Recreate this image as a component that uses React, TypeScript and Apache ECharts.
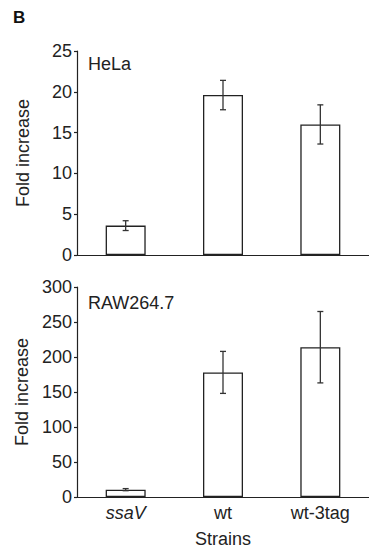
import React, { useEffect, useRef } from "react";
import * as echarts from "echarts";

const strains = ["ssaV", "wt", "wt-3tag"];
const helaMeans = [3.6, 19.6, 16.0];
const helaErrors = [0.6, 1.8, 2.4];
const rawMeans = [10.5, 178, 214];
const rawErrors = [1.5, 30, 51];
const helaTicks = { min: 0, max: 25, interval: 5 };
const rawTicks = { min: 0, max: 300, interval: 50 };

const FONT = "Liberation Sans, Arial, Helvetica, sans-serif";
const INK = "#222";

function errData(means: number[], errs: number[]) {
  return means.map((m, i) => [i, m - errs[i], m + errs[i]]);
}

function errRender(params: any, api: any) {
  const i = api.value(0);
  const lo = api.coord([i, api.value(1)]);
  const hi = api.coord([i, api.value(2)]);
  const cap = 3;
  const style = { stroke: "#333", lineWidth: 1.3 };
  return {
    type: "group",
    children: [
      { type: "line", shape: { x1: lo[0], y1: lo[1], x2: hi[0], y2: hi[1] }, style },
      { type: "line", shape: { x1: hi[0] - cap, y1: hi[1], x2: hi[0] + cap, y2: hi[1] }, style },
      { type: "line", shape: { x1: lo[0] - cap, y1: lo[1], x2: lo[0] + cap, y2: lo[1] }, style },
    ],
  };
}

export default function App() {
  const ref = useRef<HTMLDivElement>(null);
  useEffect(() => {
    if (!ref.current) return;
    const chart = echarts.init(ref.current, undefined, { renderer: "svg" });
    const yAxisBase = (idx: number, t: any) => ({
      type: "value",
      gridIndex: idx,
      min: t.min,
      max: t.max,
      interval: t.interval,
      name: "Fold increase",
      nameLocation: "middle",
      nameGap: 45,
      nameTextStyle: { fontFamily: FONT, fontSize: 18, color: INK },
      axisLine: { show: true, lineStyle: { color: INK, width: 1.2 } },
      axisTick: { show: true, length: 3, lineStyle: { color: INK, width: 1.2 } },
      axisLabel: { fontFamily: FONT, fontSize: 18, color: INK, margin: 5 },
      splitLine: { show: false },
    });
    const xAxisBase = (idx: number, showLabels: boolean) => ({
      type: "category",
      gridIndex: idx,
      data: strains,
      name: showLabels ? "Strains" : "",
      nameLocation: "middle",
      nameGap: 33,
      nameTextStyle: { fontFamily: FONT, fontSize: 18, color: INK },
      axisLine: { show: true, lineStyle: { color: INK, width: 1.2 } },
      axisTick: { show: false },
      axisLabel: {
        show: showLabels,
        margin: 7,
        fontFamily: FONT,
        fontSize: 18,
        color: INK,
        formatter: (v: string) => (v === "ssaV" ? "{i|" + v + "}" : v),
        rich: { i: { fontStyle: "italic", fontFamily: FONT, fontSize: 18, color: INK } },
      },
    });
    const barStyle = { color: "#fff", borderColor: INK, borderWidth: 1.3 };
    chart.setOption({
      animation: false,
      grid: [
        { left: 77, top: 51, width: 300, height: 204 },
        { left: 77, top: 287, width: 300, height: 210 },
      ],
      xAxis: [xAxisBase(0, false), xAxisBase(1, true)],
      yAxis: [yAxisBase(0, helaTicks), yAxisBase(1, rawTicks)],
      series: [
        { type: "bar", xAxisIndex: 0, yAxisIndex: 0, data: helaMeans, barWidth: 40, itemStyle: barStyle },
        {
          type: "custom",
          xAxisIndex: 0,
          yAxisIndex: 0,
          data: errData(helaMeans, helaErrors),
          encode: { x: 0, y: [1, 2] },
          renderItem: errRender,
          z: 5,
        },
        { type: "bar", xAxisIndex: 1, yAxisIndex: 1, data: rawMeans, barWidth: 40, itemStyle: barStyle },
        {
          type: "custom",
          xAxisIndex: 1,
          yAxisIndex: 1,
          data: errData(rawMeans, rawErrors),
          encode: { x: 0, y: [1, 2] },
          renderItem: errRender,
          z: 5,
        },
      ],
      graphic: [
        {
          type: "text",
          left: 13,
          top: 9,
          style: { text: "B", fontFamily: FONT, fontSize: 17, fontWeight: "bold", fill: "#111" },
        },
        {
          type: "text",
          x: 88,
          y: 64,
          style: { text: "HeLa", fontFamily: FONT, fontSize: 18, fill: INK, textVerticalAlign: "middle" },
        },
        {
          type: "text",
          x: 88,
          y: 303,
          style: { text: "RAW264.7", fontFamily: FONT, fontSize: 18, fill: INK, textVerticalAlign: "middle" },
        },
      ],
    });
    return () => chart.dispose();
  }, []);
  return (
    <div
      ref={ref}
      style={{ position: "absolute", left: 0, top: 0, width: 369, height: 556 }}
    />
  );
}
